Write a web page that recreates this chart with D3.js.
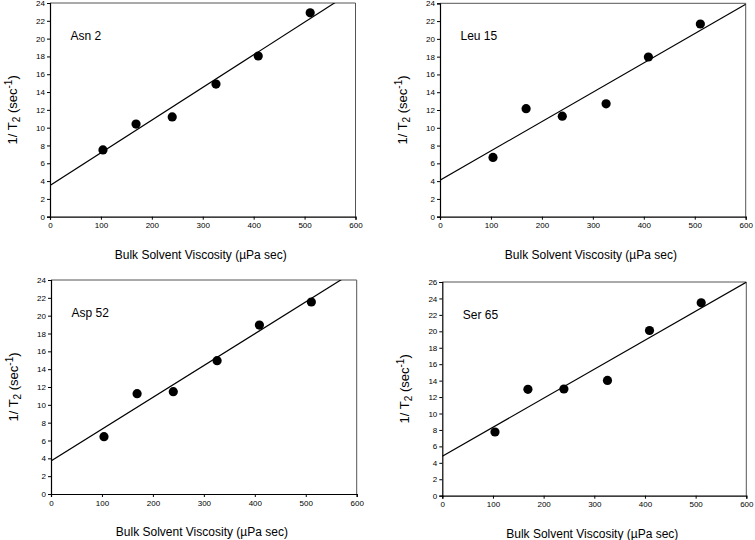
<!DOCTYPE html>
<html>
<head>
<meta charset="utf-8">
<script src="https://cdn.jsdelivr.net/npm/d3@7"></script>
<style>
  html, body { margin: 0; padding: 0; background: #fff; }
  svg { display: block; font-family: "Liberation Sans", Arial, sans-serif; }
</style>
</head>
<body>
<svg id="chart" width="755" height="540"></svg>
<script>
// ---- data ----
const viscosity = [104, 169, 240, 326, 409, 511];
const asn2  = [7.5, 10.4, 11.2, 14.9, 18.05, 22.9];
const leu15 = [6.67, 12.15, 11.3, 12.7, 17.96, 21.67];
const asp52 = [6.43, 11.25, 11.48, 14.95, 18.95, 21.53];
const ser65 = [7.75, 12.94, 12.98, 14.03, 20.1, 23.47];

const residueNames = ["Asn 2", "Leu 15", "Asp 52", "Ser 65"];
const residueSeries = [asn2, leu15, asp52, ser65];
const fitIntercepts = [3.5, 4.1, 3.7, 4.8];
const fitSlopes = [0.0367, 0.0330, 0.0357, 0.0353];
const yMaxes = [24, 24, 24, 26];
const xTicks = [0, 100, 200, 300, 400, 500, 600];
const xTitle = "Bulk Solvent Viscosity (\u00B5Pa sec)";

// ---- layout ----
const frames = [
  {left: 50,    right: 355.5, top: 3,   bottom: 216.7},
  {left: 440,   right: 745.7, top: 3.3, bottom: 216.7},
  {left: 51,    right: 356.7, top: 280, bottom: 494},
  {left: 442.3, right: 746.3, top: 282, bottom: 495.7}
];

const svg = d3.select("#chart");

frames.forEach((f, i) => {
  const x = d3.scaleLinear().domain([0, 600]).range([f.left, f.right]);
  const y = d3.scaleLinear().domain([0, yMaxes[i]]).range([f.bottom, f.top]);
  const g = svg.append("g");

  // clip
  const clipId = "clip" + i;
  svg.append("clipPath").attr("id", clipId)
    .append("rect")
    .attr("x", f.left).attr("y", f.top)
    .attr("width", f.right - f.left).attr("height", f.bottom - f.top);

  // frame top/right
  g.append("path")
    .attr("d", `M${f.left},${f.top}H${f.right}V${f.bottom}`)
    .attr("fill", "none").attr("stroke", "#555").attr("stroke-width", 1);

  // axes
  const yTicks = d3.range(0, yMaxes[i] + 1, 2);
  const xAxis = d3.axisBottom(x).tickValues(xTicks).tickSize(3).tickPadding(3).tickFormat(d3.format("d"));
  const yAxis = d3.axisLeft(y).tickValues(yTicks).tickSize(3).tickPadding(2).tickFormat(d3.format("d"));

  const gx = g.append("g").attr("transform", `translate(0,${f.bottom})`).call(xAxis);
  const gy = g.append("g").attr("transform", `translate(${f.left},0)`).call(yAxis);
  [gx, gy].forEach(a => {
    a.select(".domain").attr("stroke", "#000").attr("stroke-width", 1.2);
    a.selectAll(".tick line").attr("stroke", "#000");
    a.selectAll(".tick text").attr("font-size", 8).attr("fill", "#000")
      .attr("font-family", '"Liberation Sans", Arial, sans-serif');
  });

  // fit line
  const line = d3.line().x(d => x(d)).y(d => y(fitIntercepts[i] + fitSlopes[i] * d));
  g.append("path")
    .datum([0, 600])
    .attr("clip-path", `url(#${clipId})`)
    .attr("d", line)
    .attr("fill", "none").attr("stroke", "#000").attr("stroke-width", 1.2);

  // points
  g.selectAll("circle.pt")
    .data(viscosity.map((v, k) => [v, residueSeries[i][k]]))
    .join("circle")
    .attr("class", "pt")
    .attr("cx", d => x(d[0])).attr("cy", d => y(d[1]))
    .attr("r", 4.6).attr("fill", "#000");

  // panel label
  g.append("text")
    .attr("x", f.left + 20.5).attr("y", f.top + 37)
    .attr("font-size", 12).attr("fill", "#000")
    .text(residueNames[i]);

  // x title
  g.append("text")
    .attr("x", (f.left + f.right) / 2 - 2).attr("y", f.bottom + 42)
    .attr("text-anchor", "middle").attr("font-size", 12).attr("fill", "#000")
    .text(xTitle);

  // y title
  const yt = g.append("text")
    .attr("transform", `translate(${f.left - 33},${(f.top + f.bottom) / 2}) rotate(-90)`)
    .attr("text-anchor", "middle").attr("font-size", 13).attr("fill", "#000");
  yt.append("tspan").text("1/ T");
  yt.append("tspan").attr("font-size", 10).attr("dy", 3).text("2");
  yt.append("tspan").attr("dy", -3).text(" (sec");
  yt.append("tspan").attr("font-size", 10).attr("dy", -5).text("-1");
  yt.append("tspan").attr("dy", 5).text(")");
});
</script>
</body>
</html>
